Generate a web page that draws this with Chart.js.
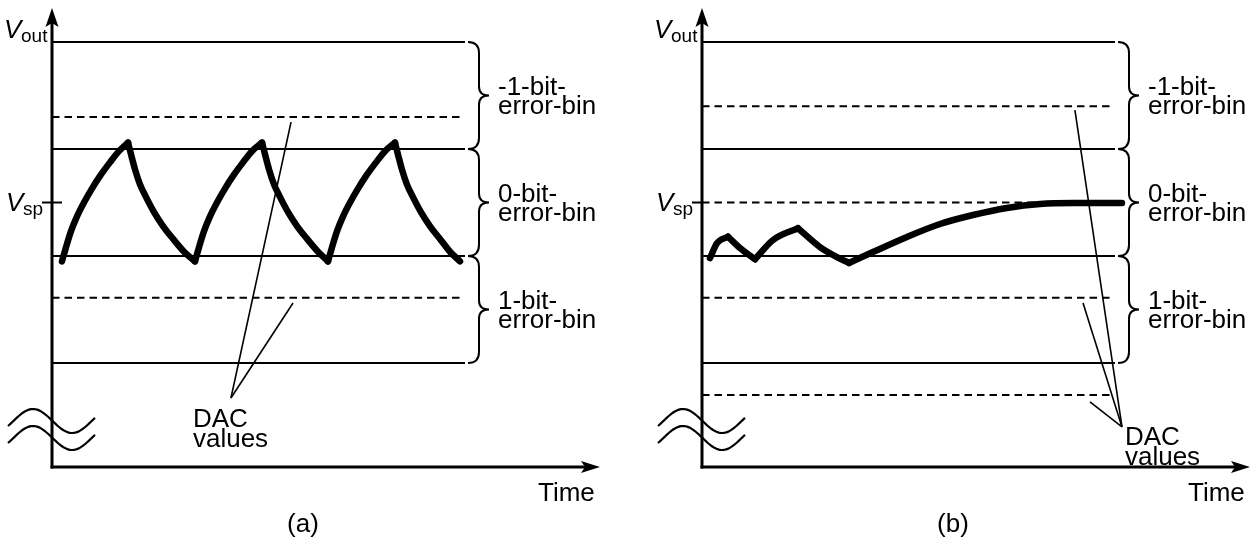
<!DOCTYPE html>
<html><head><meta charset="utf-8">
<script src="https://cdn.jsdelivr.net/npm/chart.js@4/dist/chart.umd.min.js"></script>
<style>
html,body{margin:0;padding:0;background:#fff;}
#wrap{position:relative;width:1258px;height:542px;background:#fff;}
canvas{position:absolute;top:0;}
</style>
</head><body>
<div id="wrap">
<canvas id="ca" width="650" height="542" style="left:0"></canvas>
<canvas id="cb" width="608" height="542" style="left:650px"></canvas>
</div>
<script>
// ---------------- data (time units / voltage-level units) ----------------
const binLevels   = [1, 2, 3, 4];          // solid bin boundaries
const binLineEnd  = 41.45;                 // where bin/DAC lines stop
const vspLevel    = 2.5;                   // set point
const dacLevelsA  = [3.30, 1.61];
const dacLevelsB  = [3.40, 2.50, 1.61, 0.70];

// panel (a) trace: repeated rise / fall (cusp points listed twice)
const traceAx = [1.0, 1.40, 1.90, 2.51, 3.21, 4.01, 4.91, 5.82, 6.72, 7.63,
                 7.63, 7.93, 8.33, 8.83, 9.44, 10.24, 11.14, 12.15, 13.25, 14.35,
                 14.35, 14.75, 15.25, 15.86, 16.56, 17.36, 18.26, 19.17, 20.07, 21.08,
                 21.08, 21.38, 21.78, 22.28, 22.89, 23.69, 24.59, 25.60, 26.70, 27.70,
                 27.70, 28.10, 28.60, 29.21, 29.91, 30.71, 31.61, 32.52, 33.42, 34.42,
                 34.42, 34.72, 35.12, 35.62, 36.23, 37.03, 37.93, 38.94, 39.95, 40.95];
const traceAy = [1.95, 2.08, 2.23, 2.37, 2.50, 2.63, 2.76, 2.875, 2.98, 3.06,
                 3.06, 2.95, 2.81, 2.67, 2.55, 2.41, 2.28, 2.16, 2.04, 1.95,
                 1.95, 2.08, 2.23, 2.37, 2.50, 2.63, 2.76, 2.875, 2.98, 3.06,
                 3.06, 2.95, 2.81, 2.67, 2.55, 2.41, 2.28, 2.16, 2.04, 1.95,
                 1.95, 2.08, 2.23, 2.37, 2.50, 2.63, 2.76, 2.875, 2.98, 3.06,
                 3.06, 2.95, 2.81, 2.67, 2.55, 2.41, 2.28, 2.16, 2.04, 1.95];

// panel (b) trace: small oscillations then settling to Vsp
const traceBx = [0.80, 1.51, 2.61, 2.61, 3.81, 5.32, 5.32, 7.13, 9.63, 9.63, 11.84, 13.55, 14.75, 14.75,
                 17.16, 20.57, 23.89, 27.20, 30.61, 33.92, 37.23, 42.15];
const traceBy = [1.98, 2.12, 2.18, 2.18, 2.075, 1.97, 1.97, 2.15, 2.26, 2.26, 2.084, 1.99, 1.935, 1.935,
                 2.037, 2.178, 2.299, 2.383, 2.449, 2.486, 2.495, 2.495];

// DAC pointer lines: [from, ...targets]  (time, level)
const dacPointerA = [[17.96, 0.673], [23.99, 3.252], [24.19, 1.561]];
const dacPointerB = [[42.15, 0.402], [37.43, 3.364], [38.24, 1.561], [38.94, 0.636]];

const binLabels   = [["-1-bit-", "error-bin"], ["0-bit-", "error-bin"], ["1-bit-", "error-bin"]];
const dacLabel    = ["DAC", "values"];
const panelLabels = ["(a)", "(b)"];
const yAxisLabel  = ["V", "out"];
const spLabel     = ["V", "sp"];
const xAxisLabel  = "Time";

// ---------------- helpers ----------------
const FONT = '"Liberation Sans", Arial, Helvetica, sans-serif';
const hline = (lvl, x0, x1) => [{x: x0, y: lvl}, {x: x1, y: lvl}];

// split a trace into monotone pieces at repeated (cusp) points
function segments(xs, ys) {
  const out = []; let cur = [];
  xs.forEach((v, i) => {
    if (i > 0 && v === xs[i - 1]) { out.push(cur); cur = []; }
    cur.push({x: v, y: ys[i]});
  });
  out.push(cur);
  return out;
}

function datasetsFor(dacLevels, tx, ty) {
  const ds = [];
  binLevels.forEach(l => ds.push({data: hline(l, 0, binLineEnd), borderColor: '#000', borderWidth: 2}));
  dacLevels.forEach(l => ds.push({data: hline(l, 0, binLineEnd - 0.4), borderColor: '#000', borderWidth: 2, borderDash: [7.5, 5]}));
  segments(tx, ty).forEach(seg => ds.push({data: seg, borderColor: '#000', borderWidth: 6.5,
           cubicInterpolationMode: 'monotone', borderCapStyle: 'round', borderJoinStyle: 'round'}));
  return ds.map(d => Object.assign({showLine: true, pointRadius: 0, fill: false, clip: false}, d));
}

function decor(cfg) {
  return {
    id: 'decor',
    beforeDraw(chart) {
      const c = chart.ctx; c.save(); c.fillStyle = '#fff';
      c.fillRect(0, 0, chart.width, chart.height); c.restore();
    },
    afterDatasetsDraw(chart) {
      const ctx = chart.ctx, ca = chart.chartArea, xs = chart.scales.x, ys = chart.scales.y;
      const X = v => xs.getPixelForValue(v), Y = v => ys.getPixelForValue(v);
      const ox = ca.left, oy = ca.bottom;
      ctx.save();
      ctx.strokeStyle = '#000'; ctx.fillStyle = '#000';

      // axes
      ctx.lineWidth = 3; ctx.lineCap = 'butt';
      ctx.beginPath(); ctx.moveTo(ox, oy + 1.5); ctx.lineTo(ox, ca.top + 14); ctx.stroke();
      ctx.beginPath(); ctx.moveTo(ox - 1.5, oy); ctx.lineTo(ca.right - 14, oy); ctx.stroke();
      ctx.beginPath(); ctx.moveTo(ox, ca.top); ctx.lineTo(ox + 6.5, ca.top + 19);
      ctx.lineTo(ox, ca.top + 15); ctx.lineTo(ox - 6.5, ca.top + 19); ctx.closePath(); ctx.fill();
      ctx.beginPath(); ctx.moveTo(ca.right, oy); ctx.lineTo(ca.right - 19, oy - 6);
      ctx.lineTo(ca.right - 15, oy); ctx.lineTo(ca.right - 19, oy + 6); ctx.closePath(); ctx.fill();

      // Vsp tick
      ctx.lineWidth = 2;
      ctx.beginPath(); ctx.moveTo(ox - 10, Y(vspLevel)); ctx.lineTo(ox + cfg.tickRight, Y(vspLevel)); ctx.stroke();

      // axis break symbol
      ctx.lineWidth = 2.2;
      [oy - 46, oy - 29].forEach(cy => {
        ctx.beginPath();
        for (let i = 0; i <= 60; i++) {
          const t = i / 60, px = ox - 44 + 87 * t;
          const py = cy - 12 * Math.sin(2 * Math.PI * (t - 0.062) / 0.9);
          i ? ctx.lineTo(px, py) : ctx.moveTo(px, py);
        }
        ctx.stroke();
      });

      // braces + bin labels
      const bx = X(binLineEnd) + 3;
      ctx.lineWidth = 2;
      ctx.font = '26px ' + FONT; ctx.textBaseline = 'alphabetic'; ctx.textAlign = 'left';
      for (let j = 0; j < 3; j++) {
        const top = Y(binLevels[3 - j]), bot = Y(binLevels[2 - j]), mid = (top + bot) / 2;
        const s = bx + 11, tip = bx + 21;
        ctx.beginPath();
        ctx.moveTo(bx, top);
        ctx.quadraticCurveTo(s, top, s, top + 11);
        ctx.lineTo(s, mid - 9);
        ctx.quadraticCurveTo(s, mid, tip, mid);
        ctx.quadraticCurveTo(s, mid, s, mid + 9);
        ctx.lineTo(s, bot - 11);
        ctx.quadraticCurveTo(s, bot, bx, bot);
        ctx.stroke();
        ctx.fillText(binLabels[j][0], bx + 30, mid - 1);
        ctx.fillText(binLabels[j][1], bx + 30, mid + 18);
      }

      // DAC pointers
      const p = cfg.pointer;
      ctx.lineWidth = 1.6;
      p.slice(1).forEach(t => {
        ctx.beginPath(); ctx.moveTo(X(p[0][0]), Y(p[0][1])); ctx.lineTo(X(t[0]), Y(t[1])); ctx.stroke();
      });
      const lx = X(p[0][0]) + cfg.dacDx, ly = Y(p[0][1]) + cfg.dacDy;
      ctx.fillText(dacLabel[0], lx, ly);
      ctx.fillText(dacLabel[1], lx, ly + 20);

      // axis labels
      ctx.font = 'italic 26px ' + FONT;
      ctx.fillText(yAxisLabel[0], ox - 48, ca.top + 30);
      ctx.fillText(spLabel[0], ox - 46, Y(vspLevel) + 8);
      ctx.font = '19px ' + FONT;
      ctx.fillText(yAxisLabel[1], ox - 31, ca.top + 34);
      ctx.fillText(spLabel[1], ox - 29, Y(vspLevel) + 12);
      ctx.font = '26px ' + FONT;
      ctx.fillText(xAxisLabel, ca.right - 62, oy + 34);
      ctx.textAlign = 'center';
      ctx.fillText(cfg.panelLabel, ox + 251, oy + 65);
      ctx.restore();
    }
  };
}

function makeChart(id, padRight, dacLevels, tx, ty, cfg) {
  return new Chart(document.getElementById(id), {
    type: 'scatter',
    data: {datasets: datasetsFor(dacLevels, tx, ty)},
    options: {
      responsive: false, animation: false, devicePixelRatio: 1,
      layout: {padding: {left: 52, right: padRight, top: 8, bottom: 75}},
      scales: {
        x: {type: 'linear', min: 0, max: 55, display: false},
        y: {type: 'linear', min: 0.028, max: 4.318, display: false}
      },
      plugins: {legend: {display: false}, tooltip: {enabled: false}}
    },
    plugins: [decor(cfg)]
  });
}

makeChart('ca', 50, dacLevelsA, traceAx, traceAy,
  {tickRight: 10, pointer: dacPointerA, dacDx: -38, dacDy: 29, panelLabel: panelLabels[0]});
makeChart('cb', 8, dacLevelsB, traceBx, traceBy,
  {tickRight: 0, pointer: dacPointerB, dacDx: 3, dacDy: 18, panelLabel: panelLabels[1]});
</script>
</body></html>
